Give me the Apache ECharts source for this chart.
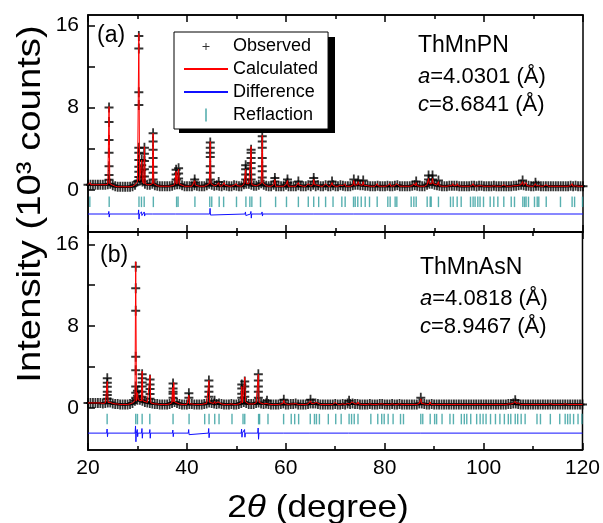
<!DOCTYPE html>
<html>
<head>
<meta charset="utf-8">
<script src="https://cdn.jsdelivr.net/npm/echarts@6/dist/echarts.min.js"></script>
<style>
  html, body { margin: 0; padding: 0; background: #fff; }
  #chart { width: 603px; height: 523px; }
</style>
</head>
<body>
<div id="chart"></div>
<script>
// ---------------- data ----------------
const X_START = 20, X_STEP = 0.5;           // observed baseline sampling
const xTickValues = [20, 40, 60, 80, 100, 120];
const yTickLabels = [0, 8, 16];
const yTickMarks = [0, 4, 8, 12, 16];

// Observed baseline counts (10^3), panel (a), 20..120 step 0.5
const obsBaseA = [
  0.5,0.5,0.5,0.5,0.5,0.5,0.5,0.5,0.55,0.6,
  0.45,0.35,0.3,0.3,0.3,0.3,0.3,0.3,0.35,0.5,
  0.8,0.9,0.8,0.6,0.5,0.5,0.6,0.45,0.4,0.35,
  0.35,0.35,0.35,0.35,0.4,0.5,0.55,0.55,0.45,0.35,
  0.35,0.35,0.35,0.45,0.4,0.35,0.35,0.35,0.45,0.6,
  0.5,0.4,0.45,0.4,0.35,0.45,0.4,0.35,0.35,0.45,
  0.4,0.35,0.35,0.55,0.6,0.6,0.5,0.4,0.4,0.5,
  0.65,0.5,0.4,0.35,0.35,0.5,0.35,0.35,0.35,0.35,
  0.5,0.35,0.35,0.35,0.35,0.45,0.35,0.35,0.35,0.45,
  0.35,0.5,0.35,0.45,0.35,0.35,0.45,0.35,0.35,0.45,
  0.35,0.35,0.45,0.4,0.35,0.35,0.35,0.45,0.5,0.5,
  0.45,0.45,0.4,0.4,0.35,0.35,0.35,0.4,0.35,0.35,
  0.35,0.4,0.35,0.35,0.4,0.45,0.35,0.35,0.35,0.35,
  0.35,0.4,0.45,0.4,0.35,0.35,0.35,0.5,0.6,0.6,
  0.5,0.45,0.4,0.35,0.35,0.35,0.4,0.4,0.4,0.4,
  0.35,0.35,0.35,0.35,0.35,0.4,0.4,0.35,0.4,0.4,
  0.35,0.35,0.35,0.35,0.4,0.35,0.35,0.35,0.35,0.35,
  0.35,0.35,0.4,0.4,0.45,0.5,0.45,0.4,0.4,0.35,
  0.35,0.4,0.4,0.35,0.35,0.35,0.35,0.35,0.35,0.35,
  0.35,0.35,0.35,0.35,0.35,0.4,0.35,0.4,0.35,0.35,
  0.35
];
// Observed baseline counts, panel (b)
const obsBaseB = [
  0.5,0.5,0.5,0.5,0.5,0.5,0.45,0.5,0.55,0.55,
  0.45,0.4,0.4,0.35,0.35,0.35,0.35,0.4,0.5,0.7,
  0.8,0.8,0.7,0.6,0.55,0.5,0.45,0.4,0.4,0.35,
  0.35,0.35,0.35,0.4,0.5,0.6,0.5,0.4,0.35,0.35,
  0.35,0.4,0.4,0.35,0.35,0.35,0.35,0.4,0.45,0.55,
  0.5,0.45,0.4,0.45,0.4,0.35,0.35,0.35,0.4,0.35,
  0.35,0.4,0.5,0.6,0.5,0.4,0.4,0.4,0.5,0.55,
  0.45,0.4,0.45,0.4,0.35,0.35,0.35,0.35,0.4,0.45,
  0.35,0.35,0.4,0.4,0.45,0.35,0.35,0.35,0.35,0.4,
  0.45,0.45,0.45,0.4,0.35,0.35,0.35,0.35,0.35,0.35,
  0.4,0.35,0.35,0.4,0.35,0.45,0.4,0.45,0.4,0.4,
  0.35,0.35,0.35,0.35,0.4,0.35,0.35,0.35,0.4,0.4,
  0.35,0.35,0.35,0.4,0.35,0.35,0.4,0.35,0.35,0.35,
  0.35,0.35,0.35,0.35,0.45,0.45,0.4,0.35,0.35,0.4,
  0.35,0.35,0.35,0.35,0.35,0.35,0.35,0.35,0.35,0.35,
  0.35,0.35,0.35,0.35,0.35,0.35,0.35,0.35,0.35,0.35,
  0.35,0.35,0.35,0.35,0.35,0.35,0.35,0.35,0.35,0.35,
  0.4,0.4,0.45,0.45,0.4,0.35,0.35,0.35,0.35,0.35,
  0.35,0.35,0.35,0.35,0.35,0.35,0.35,0.35,0.35,0.35,
  0.35,0.35,0.35,0.35,0.35,0.35,0.35,0.35,0.35,0.35,
  0.35
];

// Calculated peaks: [2theta, apex intensity]
const calcPeaksA = [[20.4,0.7],[24.25,8.1],[30.27,15.2],[30.85,2.9],[31.4,4.2],[33.15,5.5],[37.8,1.8],[38.3,2.0],[41.55,0.9],[44.7,4.7],[46.4,0.7],[47.5,0.7],[49.95,0.6],[51.85,2.0],[52.95,4.2],[55.2,5.3],[57.75,1.0],[60.3,0.9],[62.5,0.7],[64.5,0.6],[65.6,1.0],[66.6,0.6],[68.0,0.6],[69.3,0.7],[71.9,0.6],[73.7,0.9],[74.6,0.8],[75.6,0.8],[78.4,0.6],[81.0,0.6],[82.3,0.6],[85.8,0.6],[86.3,0.7],[88.8,1.1],[89.6,1.1],[90.8,0.8],[93.7,0.6],[94.6,0.6],[97.8,0.6],[99.6,0.5],[101.9,0.5],[104.0,0.5],[106.1,0.5],[107.8,0.8],[108.5,0.7],[110.4,0.6],[112.5,0.5],[115.4,0.5],[117.8,0.6],[118.3,0.5]];
const calcPeaksB = [[23.9,2.6],[29.65,14.3],[30.0,1.5],[30.95,3.6],[32.55,3.2],[37.1,2.0],[37.35,2.5],[40.4,1.25],[43.6,0.5],[44.45,2.7],[45.6,0.65],[46.3,0.6],[49.1,0.5],[51.1,2.1],[51.7,3.0],[54.45,3.3],[56.2,0.6],[59.6,0.75],[61.1,0.5],[61.8,0.55],[65.0,0.7],[65.8,0.6],[66.2,0.55],[70.0,0.55],[71.2,0.5],[72.8,0.6],[73.4,0.6],[74.6,0.6],[79.4,0.5],[81.7,0.5],[83.2,0.5],[87.3,0.9],[89.2,0.6],[93.2,0.45],[96.1,0.45],[99.3,0.45],[101.4,0.45],[104.2,0.4],[106.4,0.65],[107.0,0.5],[108.4,0.45],[113.5,0.4],[116.5,0.4]];

// Observed points on peak flanks: [2theta, [intensities]]
const obsPeaksA = [[24.25,[8.0,6.6,4.85,3.6,2.3,1.45,0.97]],[30.27,[14.95,13.75,9.5,8.25,4.1,3.6,2.9,2.25,1.75,1.26]],[30.85,[2.9,2.4,1.9,1.3]],[31.4,[4.1,3.5,2.8,2.0,1.3]],[33.15,[5.5,4.7,3.9,3.1,2.25,1.65,1.0]],[37.8,[1.95,1.5,1.0]],[38.3,[2.1,1.6,1.1]],[41.55,[1.0,0.7]],[44.7,[4.6,4.1,3.6,3.2,2.3,1.65,1.0]],[46.4,[0.75]],[51.85,[2.4,2.0,1.5,1.0]],[52.95,[3.9,3.6,3.1,2.6,2.1,1.5,1.0]],[55.2,[5.2,4.7,4.1,3.1,2.3,1.8,1.2]],[57.75,[1.15,0.8]],[60.3,[1.0,0.7]],[62.5,[0.8]],[65.6,[1.15,0.8]],[69.3,[0.8]],[73.7,[1.0]],[74.6,[0.9]],[75.6,[0.9]],[86.3,[0.8]],[88.8,[1.4,1.0]],[89.6,[1.4,1.0]],[90.8,[0.9]],[107.8,[0.9]],[110.4,[0.7]]];
const obsPeaksB = [[23.9,[2.9,2.47,2.08,1.6,1.27,0.9]],[29.65,[13.8,11.7,9.5,5.0,3.7,2.1,1.5,1.0]],[30.0,[1.7,1.2]],[30.95,[3.3,2.9,2.5,2.1,1.6,1.1]],[32.55,[2.8,2.3,1.85,1.37,0.9]],[37.2,[2.4,1.9,1.6,1.4,1.0]],[40.4,[1.45,1.0]],[44.45,[2.7,2.1,1.6,1.1]],[45.6,[0.7]],[51.1,[2.3,1.9,1.4,1.0]],[51.7,[2.6,2.1,1.6,1.1]],[54.45,[3.3,2.7,2.1,1.6,1.0]],[56.2,[0.7]],[59.6,[0.8]],[65.0,[0.8]],[72.8,[0.7]],[87.3,[1.0]],[106.4,[0.75]]];

// Difference curve (offset level) and spikes [2theta, high, low]
const diffLevelA = -2.35;
const diffSpikesA = [[24.25,-2.1,-2.65],[30.27,-1.95,-2.85],[30.85,-2.15,-2.5],[31.4,-2.15,-2.55],[33.15,-2.2,-2.5],[37.8,-2.2,-2.45],[44.7,-1.8,-2.45],[51.85,-2.15,-2.5],[52.95,-2.1,-2.75],[55.2,-2.15,-2.55],[65.6,-2.25,-2.45],[73.7,-2.25,-2.45],[88.8,-2.25,-2.45]];
const diffLevelB = -2.45;
const diffSpikesB = [[23.9,-2.05,-2.8],[29.65,-1.75,-3.3],[30.0,-2.1,-2.8],[30.95,-2.0,-2.95],[32.55,-2.1,-2.95],[37.2,-2.15,-2.8],[40.4,-2.1,-2.6],[44.45,-2.0,-2.9],[51.1,-2.05,-2.85],[51.7,-2.1,-2.85],[54.45,-1.95,-3.05],[59.6,-2.3,-2.6],[65.0,-2.3,-2.6],[72.8,-2.35,-2.55],[87.3,-2.3,-2.55]];

// Bragg reflection positions
const reflA = [20.37,24.28,30.3,30.8,31.35,33.2,37.9,38.2,41.6,44.6,45.0,46.5,47.4,50.0,51.9,52.7,53.1,54.85,57.9,60.1,62.5,64.5,65.6,66.6,68.0,69.5,71.28,71.95,73.64,73.98,74.5,75.2,76.0,76.87,78.42,80.57,81.04,82.05,82.39,85.29,85.83,86.3,88.52,89.13,89.33,90.8,93.23,93.77,94.58,95.39,97.27,97.8,98.2,98.75,99.2,99.9,101.25,101.98,102.8,104.0,105.5,106.16,107.84,108.2,108.5,108.99,110.2,110.75,111.07,112.57,115.45,117.8,118.3,119.9];
const reflB = [23.87,29.65,30.0,30.95,32.5,37.2,40.44,43.6,44.48,45.63,46.5,49.12,51.35,51.7,54.5,54.7,56.4,59.56,61.1,61.8,62.6,64.95,65.8,66.2,66.8,68.6,70.1,71.2,72.8,73.3,73.84,74.6,77.2,78.6,79.4,79.9,80.7,81.7,83.2,83.8,87.3,87.7,89.2,90.1,90.5,91.6,93.2,93.9,95.5,96.1,96.6,97.4,98.6,99.3,99.9,100.5,101.4,102.4,103.3,104.2,105.0,105.5,106.4,106.9,107.6,108.4,110.8,111.5,113.5,115.4,116.5,117.0,117.5,118.2,119.1,119.9];

// ---------------- build series data ----------------
function baseXY(base) { return base.map((v, i) => [X_START + i * X_STEP, v]); }
function observed(base, peaks) {
  const pts = baseXY(base);
  peaks.forEach(([x, hs]) => hs.forEach(h => pts.push([x, h])));
  return pts;
}
function calculated(base, peaks) {
  const hw = 0.15;
  let pts = baseXY(base).filter(p => !peaks.some(([x]) => Math.abs(p[0] - x) < hw));
  peaks.forEach(([x, h]) => {
    const b = base[Math.round((x - X_START) / X_STEP)];
    pts.push([x - hw, b], [x, h], [x + hw, b]);
  });
  return pts.sort((a, b) => a[0] - b[0]);
}
function difference(level, spikes) {
  const pts = [[20, level], [120, level]];
  spikes.forEach(([x, hi, lo]) => pts.push([x - 0.12, level], [x - 0.04, hi], [x + 0.04, lo], [x + 0.12, level]));
  return pts.sort((a, b) => a[0] - b[0]);
}

// ---------------- chart ----------------
const FONT = "'Liberation Sans', Arial, Helvetica, sans-serif";
const TEAL = '#2e9c9c';
const crossPath = 'path://M0,3.2H8V4.8H0Z M3.2,0H4.8V8H3.2Z';
function svgIcon(svg) { return 'image://data:image/svg+xml;charset=utf-8,' + encodeURIComponent(svg); }
const crossIcon = svgIcon('<svg xmlns="http://www.w3.org/2000/svg" width="14" height="14"><path d="M3.5,7.5H10.5M7,4V11" stroke="#000" stroke-width="1" fill="none"/></svg>');
const tickIcon = svgIcon('<svg xmlns="http://www.w3.org/2000/svg" width="14" height="14"><rect x="6.2" y="0.5" width="1.6" height="13" fill="' + TEAL + '"/></svg>');

const chart = echarts.init(document.getElementById('chart'), null, { renderer: 'canvas' });

const grids = [
  { left: 88, top: 15, width: 495, height: 217 },
  { left: 88, top: 232, width: 495, height: 218 }
];
grids.forEach(g => Object.assign(g, { show: true, borderColor: '#000', borderWidth: 1.5, backgroundColor: 'transparent', containLabel: false }));

function xAxis(gridIndex, position, showLabel) {
  return {
    type: 'value', gridIndex, position, min: 20, max: 120, interval: 20,
    axisLine: { show: true, onZero: false, lineStyle: { color: '#000', width: 1.5 } },
    axisTick: { show: true, inside: true, length: 7, lineStyle: { color: '#000', width: 1.5 } },
    minorTick: { show: true, splitNumber: 2, length: 4, lineStyle: { color: '#000', width: 1.5 } },
    splitLine: { show: false },
    axisLabel: { show: showLabel, fontSize: 21, color: '#000', fontFamily: FONT, margin: 8 }
  };
}
function yAxis(gridIndex, min, max) {
  return {
    type: 'value', gridIndex, min, max, position: 'left',
    axisLine: { show: true, onZero: false, lineStyle: { color: '#000', width: 1.5 } },
    axisTick: { show: true, inside: true, length: 7, customValues: yTickMarks, lineStyle: { color: '#000', width: 1.5 } },
    splitLine: { show: false },
    axisLabel: { show: true, customValues: yTickLabels, fontSize: 21, color: '#000', fontFamily: FONT, margin: 9 }
  };
}

function panelSeries(idx, base, calcPeaks, obsPeaks, level, spikes, refl, reflY) {
  const ax = { xAxisIndex: idx * 2, yAxisIndex: idx };
  return [
    Object.assign({ name: 'Observed', type: 'scatter', data: observed(base, obsPeaks), symbol: crossPath,
      symbolSize: [9, 10], itemStyle: { color: '#000' }, silent: true, z: 2 }, ax),
    Object.assign({ name: 'Calculated', type: 'line', data: calculated(base, calcPeaks), symbol: 'none',
      lineStyle: { color: '#ff0000', width: 1 }, itemStyle: { color: '#ff0000' }, silent: true, z: 3 }, ax),
    Object.assign({ name: 'Difference', type: 'line', data: difference(level, spikes), symbol: 'none',
      lineStyle: { color: '#1010ff', width: 1 }, itemStyle: { color: '#1010ff' }, silent: true, z: 3 }, ax),
    Object.assign({ name: 'Reflaction', type: 'scatter', data: refl.map(x => [x, reflY]), symbol: 'rect',
      symbolSize: [1.4, 10.5], itemStyle: { color: TEAL }, silent: true, z: 2 }, ax)
  ];
}

function txt(x, y, text, size, extra) {
  return Object.assign({ type: 'text', x, y, silent: true,
    style: { text, x: 0, y: 0, fontSize: size, fontFamily: FONT, fill: '#000', verticalAlign: 'middle',
      rich: { i: { fontStyle: 'italic', fontSize: size, fontFamily: FONT, fill: '#000' },
              n: { fontSize: size, fontFamily: FONT, fill: '#000' } } } }, extra || {});
}

const option = {
  animation: false,
  backgroundColor: '#fff',
  grid: grids,
  xAxis: [xAxis(0, 'bottom', false), xAxis(0, 'top', false), xAxis(1, 'bottom', true), xAxis(1, 'top', false)],
  yAxis: [yAxis(0, -4.1, 17), yAxis(1, -4.1, 17.2)],
  legend: {
    orient: 'vertical', left: 174, top: 32, padding: [5, 10, 5, 9], itemGap: 5,
    itemWidth: 44, itemHeight: 14, selectedMode: false, z: 10,
    backgroundColor: '#fff', borderColor: '#000', borderWidth: 1,
    textStyle: { fontSize: 18, color: '#000', fontFamily: FONT },
    data: [
      { name: 'Observed', icon: crossIcon },
      { name: 'Calculated', itemStyle: { opacity: 0 } },
      { name: 'Difference', itemStyle: { opacity: 0 } },
      { name: 'Reflaction', icon: tickIcon }
    ]
  },
  graphic: [
    // legend drop shadow
    { type: 'rect', z: 5, silent: true, shape: { x: 179, y: 37, width: 156, height: 96 }, style: { fill: '#000' } },
    txt(97, 36, '(a)', 23),
    txt(100, 256, '(b)', 23),
    txt(418, 46, 'ThMnPN', 23),
    txt(418, 77, '{i|a}{n|=4.0301 (Å)}', 22),
    txt(418, 105, '{i|c}{n|=8.6841 (Å)}', 22),
    txt(420, 268, 'ThMnAsN', 23),
    txt(420, 299, '{i|a}{n|=4.0818 (Å)}', 22),
    txt(420, 327, '{i|c}{n|=8.9467 (Å)}', 22),
    { type: 'text', x: 31, y: 204, rotation: Math.PI / 2, scaleX: 1.16, silent: true,
      style: { text: 'Intensity (10³ counts)', x: 0, y: 0, fontSize: 33, fontFamily: FONT, fill: '#000', align: 'center', verticalAlign: 'middle' } },
    { type: 'text', x: 318, y: 508, scaleX: 1.1, silent: true,
      style: { text: '{n|2}{i|θ}{n| (degree)}', x: 0, y: 0, align: 'center', verticalAlign: 'middle', fontSize: 32, fontFamily: FONT, fill: '#000',
        rich: { n: { fontSize: 32, fontFamily: FONT, fill: '#000' }, i: { fontSize: 32, fontFamily: FONT, fontStyle: 'italic', fill: '#000' } } } }
  ],
  series: [].concat(
    panelSeries(0, obsBaseA, calcPeaksA, obsPeaksA, diffLevelA, diffSpikesA, reflA, -1.17),
    panelSeries(1, obsBaseB, calcPeaksB, obsPeaksB, diffLevelB, diffSpikesB, reflB, -1.08)
  )
};
chart.setOption(option);
</script>
</body>
</html>
